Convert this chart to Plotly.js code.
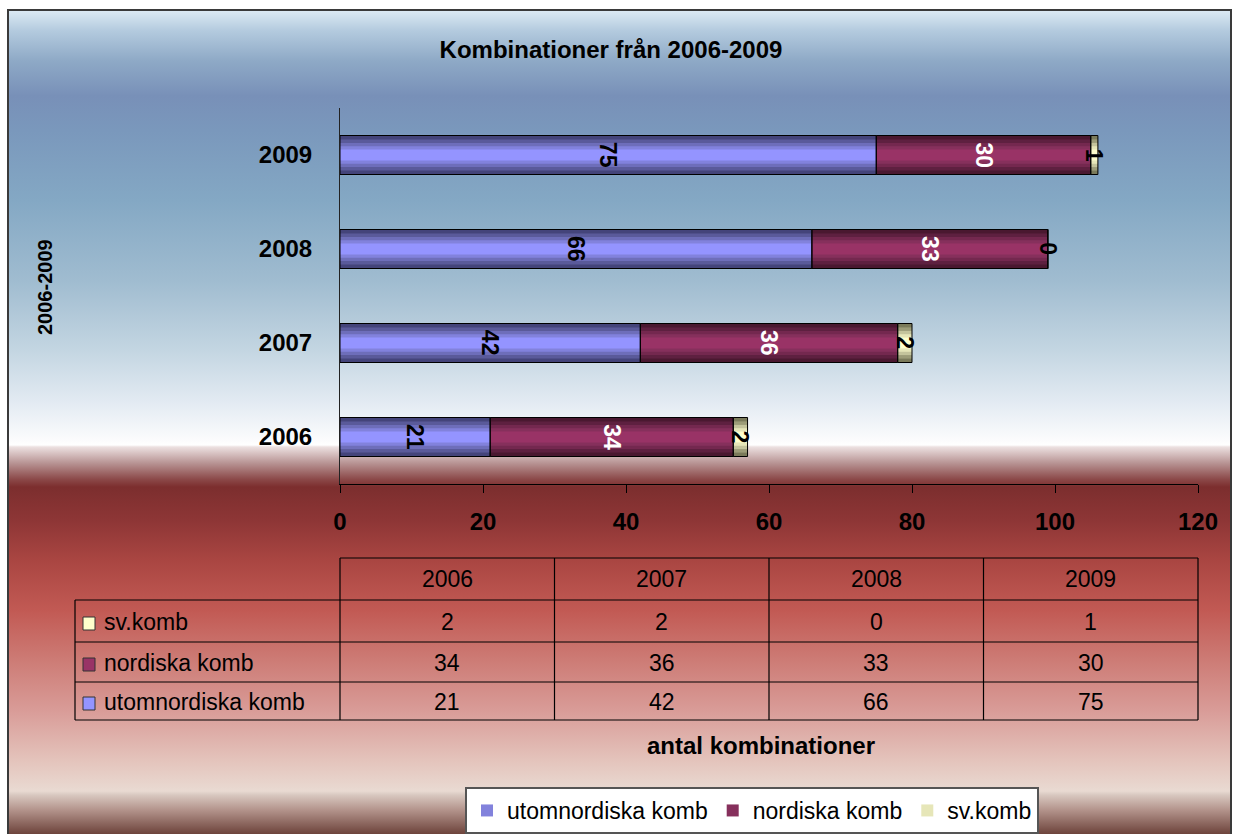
<!DOCTYPE html>
<html>
<head>
<meta charset="utf-8">
<script src="https://cdn.plot.ly/plotly-3.0.1.min.js"></script>
<style>
html,body{margin:0;padding:0;background:#ffffff;}
#bg{position:absolute;left:7px;top:9px;width:1221px;height:830px;border:2px solid #3a3a3a;
background:linear-gradient(to bottom,
 #dbe9f3 0px,#b3cade 20px,#8ea9c6 50px,#7890b8 85px,#7a98bc 120px,#84a8c4 190px,
 #a0bcd0 270px,#c4d6e2 340px,#e2eaf2 390px,#fcfcfd 430px,#ffffff 434px,#ece0e0 436px,
 #b89494 452px,#8c4a4a 468px,#7c2e2e 476px,#8e3636 510px,#aa4642 550px,#c25a54 600px,
 #cd7c76 650px,#d99c98 700px,#e4c4bc 750px,#e9dad2 780px,#d8c8c0 784px,#b09088 800px,#6a4038 824px);}
#chart{position:absolute;left:0;top:0;width:1237px;height:834px;}
</style>
</head>
<body>
<div id="bg"></div>
<div id="chart"></div>
<script>
// ---- data ----
const years = ['2006', '2007', '2008', '2009'];
const utomnordiska = [21, 42, 66, 75];
const nordiska = [34, 36, 33, 30];
const svkomb = [2, 2, 0, 1];
const seriesNames = ['utomnordiska komb', 'nordiska komb', 'sv.komb'];
const chartTitle = 'Kombinationer från 2006-2009';
const xAxisTitle = 'antal kombinationer';
const yAxisTitle = '2006-2009';
const xTicks = [0, 20, 40, 60, 80, 100, 120];

// ---- layout geometry (pixels) ----
const L = 340, R = 1198, T = 108, B = 484;
const xp = px => (px - L) / (R - L);
const yp = py => (B - py) / (B - T);
const FONT = 'Liberation Sans, Arial, sans-serif';

const seriesValues = [utomnordiska, nordiska, svkomb];
const bases = [
  years.map(() => 0),
  utomnordiska.slice(),
  utomnordiska.map((v, i) => v + nordiska[i])
];
const shades = [
  ['#44447a', '#5a5a9a', '#6e6eba', '#8282dc', '#9494ff'],
  ['#4a1830', '#5e2040', '#74284f', '#86305c', '#993366'],
  ['#7a7a5a', '#9c9c78', '#c4c49c', '#e6e6b8', '#ffffcc']
];
const labelColors = ['#000000', '#ffffff', '#000000'];
const fullW = 0.415;
const layerFrac = [1, 0.8, 0.62, 0.45, 0.28];

const traces = [];
seriesValues.forEach((vals, s) => {
  layerFrac.forEach((f, k) => {
    traces.push({
      type: 'bar', orientation: 'h',
      y: years, x: vals, base: bases[s],
      width: years.map(() => fullW * f),
      marker: {color: shades[s][k], line: {width: 0}},
      name: seriesNames[s],
      showlegend: k === 3,
      legendrank: s + 1,
      hoverinfo: 'skip'
    });
  });
});
// outlines
seriesValues.forEach((vals, s) => {
  traces.push({
    type: 'bar', orientation: 'h',
    y: years, x: vals, base: bases[s],
    width: years.map(() => fullW),
    marker: {color: 'rgba(0,0,0,0)', line: {color: '#000000', width: 1}},
    showlegend: false, hoverinfo: 'skip'
  });
});

const annotations = [];
// bar labels (y given as category index)
seriesValues.forEach((vals, s) => {
  vals.forEach((v, i) => {
    annotations.push({
      xref: 'x', yref: 'y', x: bases[s][i] + v / 2, y: i,
      xanchor: 'center', yanchor: 'middle',
      text: String(v), showarrow: false, textangle: 90,
      font: {family: FONT, size: 23, weight: 'bold', color: labelColors[s]}
    });
  });
});
// axis titles
annotations.push({xref: 'paper', yref: 'paper', x: xp(761), y: yp(745), xanchor: 'center', yanchor: 'middle',
  text: xAxisTitle, showarrow: false, font: {family: FONT, size: 24, weight: 'bold', color: '#000'}});
annotations.push({xref: 'paper', yref: 'paper', x: xp(45), y: yp(287), xanchor: 'center', yanchor: 'middle',
  text: yAxisTitle, showarrow: false, textangle: -90, font: {family: FONT, size: 20, weight: 'bold', color: '#000'}});

// data table
const colEdges = [340, 554.5, 769, 983.5, 1198];
const rowEdges = [558, 600, 642, 682, 720];
const shapes = [];
const line = (x0, y0, x1, y1) => shapes.push({type: 'line', xref: 'paper', yref: 'paper',
  x0: xp(x0), y0: yp(y0), x1: xp(x1), y1: yp(y1), line: {color: '#000000', width: 1.2}});
line(340, rowEdges[0], 1198, rowEdges[0]);
for (let r = 1; r < rowEdges.length; r++) line(75, rowEdges[r], 1198, rowEdges[r]);
line(75, rowEdges[1], 75, rowEdges[4]);
colEdges.forEach(cx => line(cx, rowEdges[0], cx, rowEdges[4]));

const tableFont = {family: FONT, size: 23, color: '#000'};
years.forEach((yr, c) => {
  const cx = (colEdges[c] + colEdges[c + 1]) / 2;
  annotations.push({xref: 'paper', yref: 'paper', x: xp(cx), y: yp((rowEdges[0] + rowEdges[1]) / 2),
    xanchor: 'center', yanchor: 'middle', text: yr, showarrow: false, font: tableFont});
});
const tableOrder = [2, 1, 0]; // sv.komb, nordiska, utomnordiska
tableOrder.forEach((s, r) => {
  const cy = (rowEdges[r + 1] + rowEdges[r + 2]) / 2 + 1;
  shapes.push({type: 'rect', xref: 'paper', yref: 'paper',
    x0: xp(83), x1: xp(95), y0: yp(cy - 5), y1: yp(cy + 8),
    fillcolor: shades[s][4], line: {color: '#333333', width: 1}});
  annotations.push({xref: 'paper', yref: 'paper', x: xp(102), y: yp(cy), xanchor: 'left', yanchor: 'middle',
    text: seriesNames[s], showarrow: false, font: tableFont});
  seriesValues[s].forEach((v, c) => {
    const cx = (colEdges[c] + colEdges[c + 1]) / 2;
    annotations.push({xref: 'paper', yref: 'paper', x: xp(cx), y: yp(cy),
      xanchor: 'center', yanchor: 'middle', text: String(v), showarrow: false, font: tableFont});
  });
});

const layout = {
  width: 1237, height: 834,
  margin: {l: L, r: 1237 - R, t: T, b: 834 - B, autoexpand: false},
  paper_bgcolor: 'rgba(0,0,0,0)', plot_bgcolor: 'rgba(0,0,0,0)',
  barmode: 'overlay',
  title: {text: chartTitle, xref: 'container', yref: 'container', x: 611 / 1237, y: 1 - 50 / 834,
    xanchor: 'center', yanchor: 'middle',
    font: {family: FONT, size: 24, weight: 'bold', color: '#000'}},
  xaxis: {range: [0, 120], tickvals: xTicks, ticks: 'outside', ticklen: 8, tickcolor: '#000',
    showline: true, linecolor: '#000', linewidth: 1, showgrid: false, zeroline: false,
    ticklabelstandoff: 8,
    tickfont: {family: FONT, size: 24, weight: 'bold', color: '#000'}, fixedrange: true},
  yaxis: {type: 'category', range: [-0.5, 3.5], showline: true, linecolor: '#222', linewidth: 1,
    showgrid: false, zeroline: false, ticks: '', ticklabelstandoff: 22,
    tickfont: {family: FONT, size: 24, weight: 'bold', color: '#000'}, fixedrange: true},
  legend: {orientation: 'h', x: xp(465), y: yp(787), xanchor: 'left', yanchor: 'top',
    bgcolor: '#ffffff', bordercolor: '#555555', borderwidth: 2,
    font: {family: FONT, size: 23, color: '#000'}, traceorder: 'normal'},
  shapes: shapes,
  annotations: annotations,
  showlegend: true
};

Plotly.newPlot('chart', traces, layout, {displayModeBar: false, staticPlot: true});
</script>
</body>
</html>
